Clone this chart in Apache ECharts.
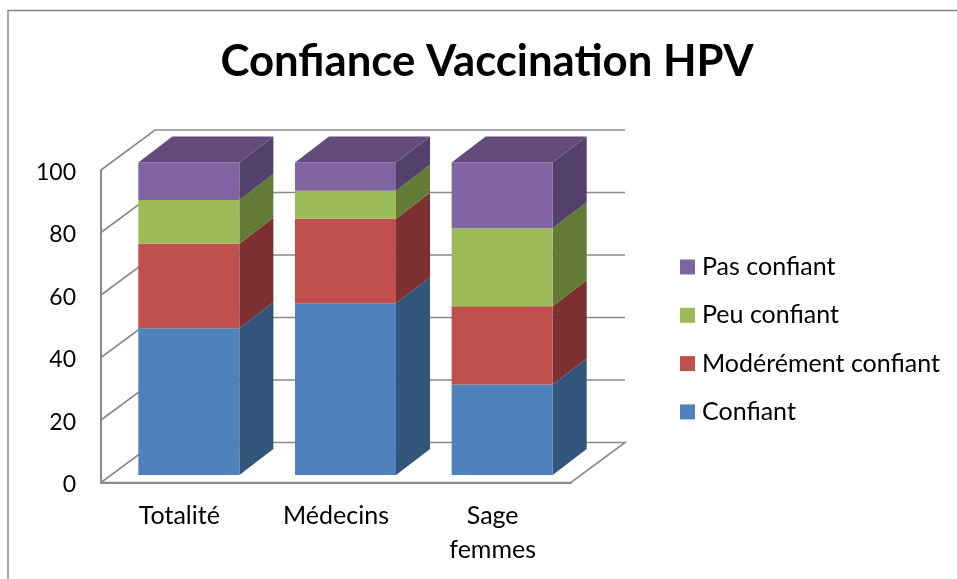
<!DOCTYPE html>
<html><head><meta charset="utf-8">
<style>html,body{margin:0;padding:0;background:#fff}#c{width:957px;height:579px}</style>
<script src="https://cdn.jsdelivr.net/npm/echarts@6/dist/echarts.min.js"></script>
</head><body><div id="c"></div>
<script>
const categories = ['Totalité', 'Médecins', 'Sage\nfemmes'];
const confiant = [47, 55, 29];
const modere = [27, 27, 25];
const peu = [14, 9, 25];
const pas = [12, 9, 21];
const yTicks = [0, 20, 40, 60, 80, 100];
const seriesNames = ['Confiant', 'Modérément confiant', 'Peu confiant', 'Pas confiant'];
const frontColors = ['#4F81BD', '#C0504D', '#9BBB59', '#8064A2'];
const sideColors = ['#32557C', '#7C3130', '#647A37', '#53406B'];
const topColor = '#634C7C';

const FONT = 'Lato';
const WALL = {dx: 54, dy: -40};
const BAR = {dx: 34, dy: -26, insetX: 9.5, insetY: -7.4, ratio: 0.645};
const LINE = {stroke: '#8a8a8a', lineWidth: 1.6, fill: null};

function wallItem(params, api) {
  const g = params.coordSys;
  const p = api.coord([0, api.value(0)]);
  const y = p[1], x0 = g.x, x1 = g.x + g.width;
  const pts = [[x0, y], [x0 + WALL.dx, y + WALL.dy], [x1 + WALL.dx, y + WALL.dy]];
  if (api.value(0) === 0) pts.push([x1, y], [x0, y]);
  return {type: 'polyline', shape: {points: pts}, style: LINE, z2: 1};
}

const stacks = [confiant, modere, peu, pas];
function makeSeries(idx) {
  const values = stacks[idx];
  const data = values.map((v, i) => {
    let base = 0;
    for (let k = 0; k < idx; k++) base += stacks[k][i];
    return [i, base, base + v];
  });
  return {
    name: seriesNames[idx], type: 'custom', coordinateSystem: 'cartesian2d',
    encode: {x: 0, y: [1, 2]}, clip: false, z: 5,
    itemStyle: {color: frontColors[idx]},
    data,
    renderItem(params, api) {
      const cat = api.value(0);
      const a = api.coord([cat, api.value(1)]);
      const b = api.coord([cat, api.value(2)]);
      const w = api.size([1, 0])[0] * BAR.ratio;
      const xl = a[0] - w / 2 + BAR.insetX, xr = xl + w;
      const yb = a[1] + BAR.insetY, yt = b[1] + BAR.insetY;
      const kids = [
        {type: 'polygon', shape: {points: [[xr, yb], [xr + BAR.dx, yb + BAR.dy], [xr + BAR.dx, yt + BAR.dy], [xr, yt]]},
          style: {fill: sideColors[idx]}},
        {type: 'rect', shape: {x: xl, y: yt, width: w, height: yb - yt}, style: {fill: frontColors[idx]}}
      ];
      if (idx === stacks.length - 1) {
        kids.push({type: 'polygon', shape: {points: [[xl, yt], [xl + BAR.dx, yt + BAR.dy], [xr + BAR.dx, yt + BAR.dy], [xr, yt]]},
          style: {fill: topColor}});
      }
      return {type: 'group', children: kids};
    }
  };
}

const chart = echarts.init(document.getElementById('c'), null, {renderer: 'canvas'});
chart.setOption({
  animation: false,
  backgroundColor: '#fff',
  title: {
    text: 'Confiance Vaccination HPV', left: 482, top: 35, textAlign: 'center',
    textStyle: {fontFamily: FONT, fontWeight: 'bold', fontSize: 43.7, color: '#000'}
  },
  legend: {
    data: seriesNames.slice().reverse(), orient: 'vertical', left: 675, top: 249.5,
    icon: 'rect', itemWidth: 15, itemHeight: 15, itemGap: 23.3, selectedMode: false,
    textStyle: {fontFamily: FONT, fontSize: 25, color: '#000', padding: [0, 0, 0, 2]}
  },
  grid: {left: 101, top: 170, width: 470, height: 312.5},
  xAxis: {
    type: 'category', data: categories,
    axisLine: {lineStyle: {color: '#8a8a8a', width: 2}}, axisTick: {show: false},
    axisLabel: {fontFamily: FONT, fontSize: 25, color: '#000', margin: 16, lineHeight: 34, interval: 0}
  },
  yAxis: {
    type: 'value', min: 0, max: 100, interval: 20,
    axisLine: {show: true, lineStyle: {color: '#8a8a8a', width: 2}}, axisTick: {show: false},
    splitLine: {show: false},
    axisLabel: {fontFamily: FONT, fontSize: 23, color: '#000', margin: 25, verticalAlign: 'top', lineHeight: 23, padding: [-9, 0, 0, 0]}
  },
  series: [
    {type: 'custom', coordinateSystem: 'cartesian2d', encode: {y: 0}, clip: false, z: 1,
      data: yTicks.map(v => [v]), renderItem: wallItem},
    ...stacks.map((_, i) => makeSeries(i))
  ],
  graphic: [{
    type: 'polyline', silent: true,
    shape: {points: [[8, 579], [8, 10.5], [957, 10.5]]},
    style: {stroke: '#868686', lineWidth: 1.5, fill: null}
  }]
});
</script></body></html>
